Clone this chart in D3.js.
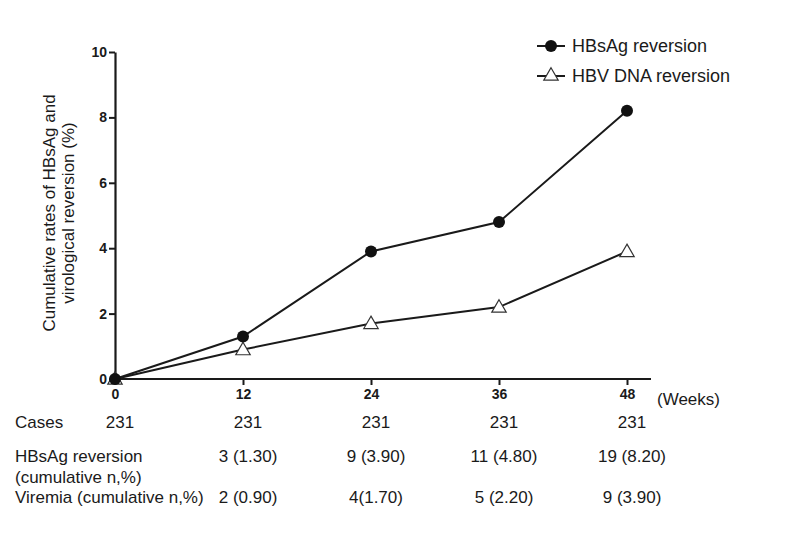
<!doctype html>
<html>
<head>
<meta charset="utf-8">
<script src="https://d3js.org/d3.v7.min.js"></script>
<style>
body{ margin:0; background:#fff; }
.txt{ font-family: Arial, "Liberation Sans", sans-serif; font-size:17px; fill:#1a1a1a; }
.leg{ font-family: Arial, "Liberation Sans", sans-serif; font-size:18px; fill:#1a1a1a; }
</style>
</head>
<body>
<svg width="787" height="538"></svg>
<script>
var weeks = [0, 12, 24, 36, 48];
var hbsag = [0, 1.3, 3.9, 4.8, 8.2];
var hbvdna = [0, 0.9, 1.7, 2.2, 3.9];
var yTicks = [0, 2, 4, 6, 8, 10];
var cases = ["231", "231", "231", "231", "231"];
var hbsagRow = ["", "3 (1.30)", "9 (3.90)", "11 (4.80)", "19 (8.20)"];
var viremiaRow = ["", "2 (0.90)", "4(1.70)", "5 (2.20)", "9 (3.90)"];

var svg = d3.select("svg");

var x = d3.scaleLinear().domain([0, 48]).range([115, 627]);
var y = d3.scaleLinear().domain([0, 10]).range([379, 52]);

// axes
var xAxis = svg.append("g")
    .attr("transform", "translate(0," + y(0) + ")")
    .call(d3.axisBottom(x).tickValues(weeks).tickSize(6).tickPadding(4).tickSizeOuter(0));
xAxis.select(".domain").attr("d", "M" + x(0) + ",0H651");

var yAxis = svg.append("g")
    .attr("transform", "translate(" + x(0) + ",0)")
    .call(d3.axisLeft(y).tickValues(yTicks).tickSize(6).tickPadding(2).tickSizeOuter(0));

svg.selectAll(".domain").attr("stroke", "#1a1a1a").attr("stroke-width", 2.2);
svg.selectAll(".tick line").attr("stroke", "#1a1a1a").attr("stroke-width", 2);
svg.selectAll(".tick text")
    .style("font-family", "Arial, 'Liberation Sans', sans-serif")
    .style("font-size", "14px")
    .style("font-weight", "bold")
    .style("fill", "#1a1a1a");

// y title, two centred lines
var yt = svg.append("text")
    .attr("class", "txt")
    .attr("text-anchor", "middle")
    .attr("transform", "translate(55,213) rotate(-90)");
yt.append("tspan").attr("x", 0).attr("y", 0).text("Cumulative rates of HBsAg and");
yt.append("tspan").attr("x", 0).attr("y", 19).text("virological reversion (%)");

var line = d3.line()
    .x(function(d, i) { return x(weeks[i]); })
    .y(function(d) { return y(d); });

svg.append("path").datum(hbvdna)
    .attr("d", line).attr("fill", "none").attr("stroke", "#1a1a1a").attr("stroke-width", 2);
svg.append("path").datum(hbsag)
    .attr("d", line).attr("fill", "none").attr("stroke", "#1a1a1a").attr("stroke-width", 2);

var tri = d3.symbol().type(d3.symbolTriangle).size(90);

svg.selectAll(".tri").data(hbvdna).enter()
    .append("path")
    .attr("class", "tri")
    .attr("d", tri)
    .attr("transform", function(d, i) { return "translate(" + x(weeks[i]) + "," + (y(d) + 1) + ")"; })
    .attr("fill", "#fff").attr("stroke", "#333").attr("stroke-width", 1.2);

svg.selectAll(".dot").data(hbsag).enter()
    .append("circle")
    .attr("class", "dot")
    .attr("cx", function(d, i) { return x(weeks[i]); })
    .attr("cy", function(d) { return y(d); })
    .attr("r", 6)
    .attr("fill", "#111");

// legend
var lg = svg.append("g");
lg.append("line").attr("x1", 537).attr("x2", 565).attr("y1", 46).attr("y2", 46)
  .attr("stroke", "#1a1a1a").attr("stroke-width", 2);
lg.append("circle").attr("cx", 551).attr("cy", 46).attr("r", 6).attr("fill", "#111");
lg.append("text").attr("class", "leg").attr("x", 572).attr("y", 52).text("HBsAg reversion");
lg.append("line").attr("x1", 537).attr("x2", 565).attr("y1", 76).attr("y2", 76)
  .attr("stroke", "#1a1a1a").attr("stroke-width", 2);
lg.append("path").attr("d", tri).attr("transform", "translate(551,76)")
  .attr("fill", "#fff").attr("stroke", "#333").attr("stroke-width", 1.2);
lg.append("text").attr("class", "leg").attr("x", 572).attr("y", 82).text("HBV DNA reversion");

// table under axis
svg.append("text").attr("class", "txt").attr("x", 657).attr("y", 405).text("(Weeks)");
svg.append("text").attr("class", "txt").attr("x", 15).attr("y", 428).text("Cases");
svg.append("text").attr("class", "txt").attr("x", 15).attr("y", 462).text("HBsAg reversion");
svg.append("text").attr("class", "txt").attr("x", 15).attr("y", 483).text("(cumulative n,%)");
svg.append("text").attr("class", "txt").attr("x", 15).attr("y", 503).text("Viremia (cumulative n,%)");

function row(vals, yy) {
  svg.append("g").selectAll("text").data(vals).enter()
    .append("text")
    .attr("class", "txt")
    .attr("text-anchor", "middle")
    .attr("x", function(d, i) { return x(weeks[i]) + 5; })
    .attr("y", yy)
    .text(function(d) { return d; });
}
row(cases, 428);
row(hbsagRow, 462);
row(viremiaRow, 503);
</script>
</body>
</html>
